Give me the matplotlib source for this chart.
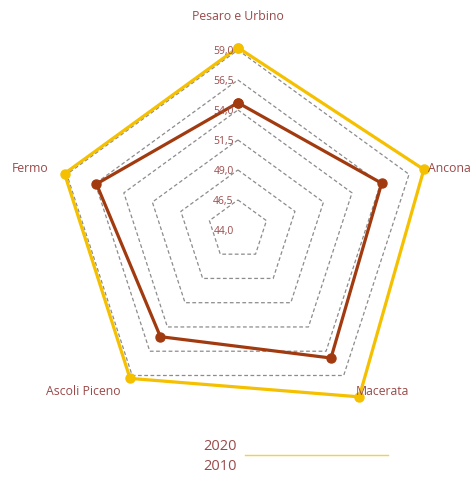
import numpy as np
import matplotlib
matplotlib.use("Agg")
import matplotlib.pyplot as plt
from matplotlib.lines import Line2D
from matplotlib.transforms import offset_copy

# ---------- dati ----------
categories = ["Pesaro e Urbino", "Ancona", "Macerata", "Ascoli Piceno", "Fermo"]
values_2020 = [59.2, 60.3, 61.2, 59.3, 59.2]
values_2010 = [54.6, 56.6, 57.2, 55.0, 56.4]
ring_values = [46.5, 49.0, 51.5, 54.0, 56.5, 59.0]
tick_values = [44.0, 46.5, 49.0, 51.5, 54.0, 56.5, 59.0]
series_names = ["2020", "2010"]

text_col = "#9A4A4A"
col_2020 = "#F5C000"
col_2010 = "#A23A10"

plt.rcParams['font.family'] = ['Open Sans', 'DejaVu Sans']

fig = plt.figure(figsize=(4.73, 4.78), dpi=100)
ax = fig.add_axes([0.0465, 0.067, 0.913, 0.904], projection='polar')
ax.set_theta_offset(np.pi / 2)
ax.set_theta_direction(-1)
ax.set_ylim(44, 62)
ax.axis('off')

n = len(categories)
theta = np.linspace(0, 2 * np.pi, n, endpoint=False)
theta_c = np.append(theta, theta[0])

# griglia a pentagono tratteggiata
for rv in ring_values:
    ax.plot(theta_c, [rv] * (n + 1), color='#8c8c8c', lw=0.9,
            ls=(0, (3, 2)), zorder=1)

# serie
ax.plot(theta_c, values_2020 + values_2020[:1], color=col_2020, lw=2.3,
        marker='o', ms=6.5, zorder=3)
ax.plot(theta_c, values_2010 + values_2010[:1], color=col_2010, lw=2.3,
        marker='o', ms=6.5, zorder=4)

# etichette asse valori
tr = offset_copy(ax.transData, fig=fig, x=-3, y=-1, units='points')
for tv in tick_values:
    ax.text(0, tv, f"{tv:.1f}".replace('.', ','), transform=tr,
            ha='right', va='center', fontsize=7.5, color=text_col, zorder=5)

# etichette categorie
label_pos = [(61.8, 'center'), (60.7, 'left'), (60.7, 'left'),
             (60.6, 'right'), (60.6, 'right')]
for t, name, (r, ha) in zip(theta, categories, label_pos):
    ax.text(t, r, name, ha=ha, va='center', fontsize=8.8, color=text_col)

# legenda
fig.text(203 / 473, 1 - 446 / 478, series_names[0], fontsize=10.5,
         color=text_col, ha='left', va='center')
fig.text(203 / 473, 1 - 467 / 478, series_names[1], fontsize=10.5,
         color=text_col, ha='left', va='center')
fig.add_artist(Line2D([245 / 473, 388 / 473], [1 - 455 / 478, 1 - 455 / 478],
                      color='#EDD540', lw=1.0))

fig.savefig("out.png", dpi=100)
